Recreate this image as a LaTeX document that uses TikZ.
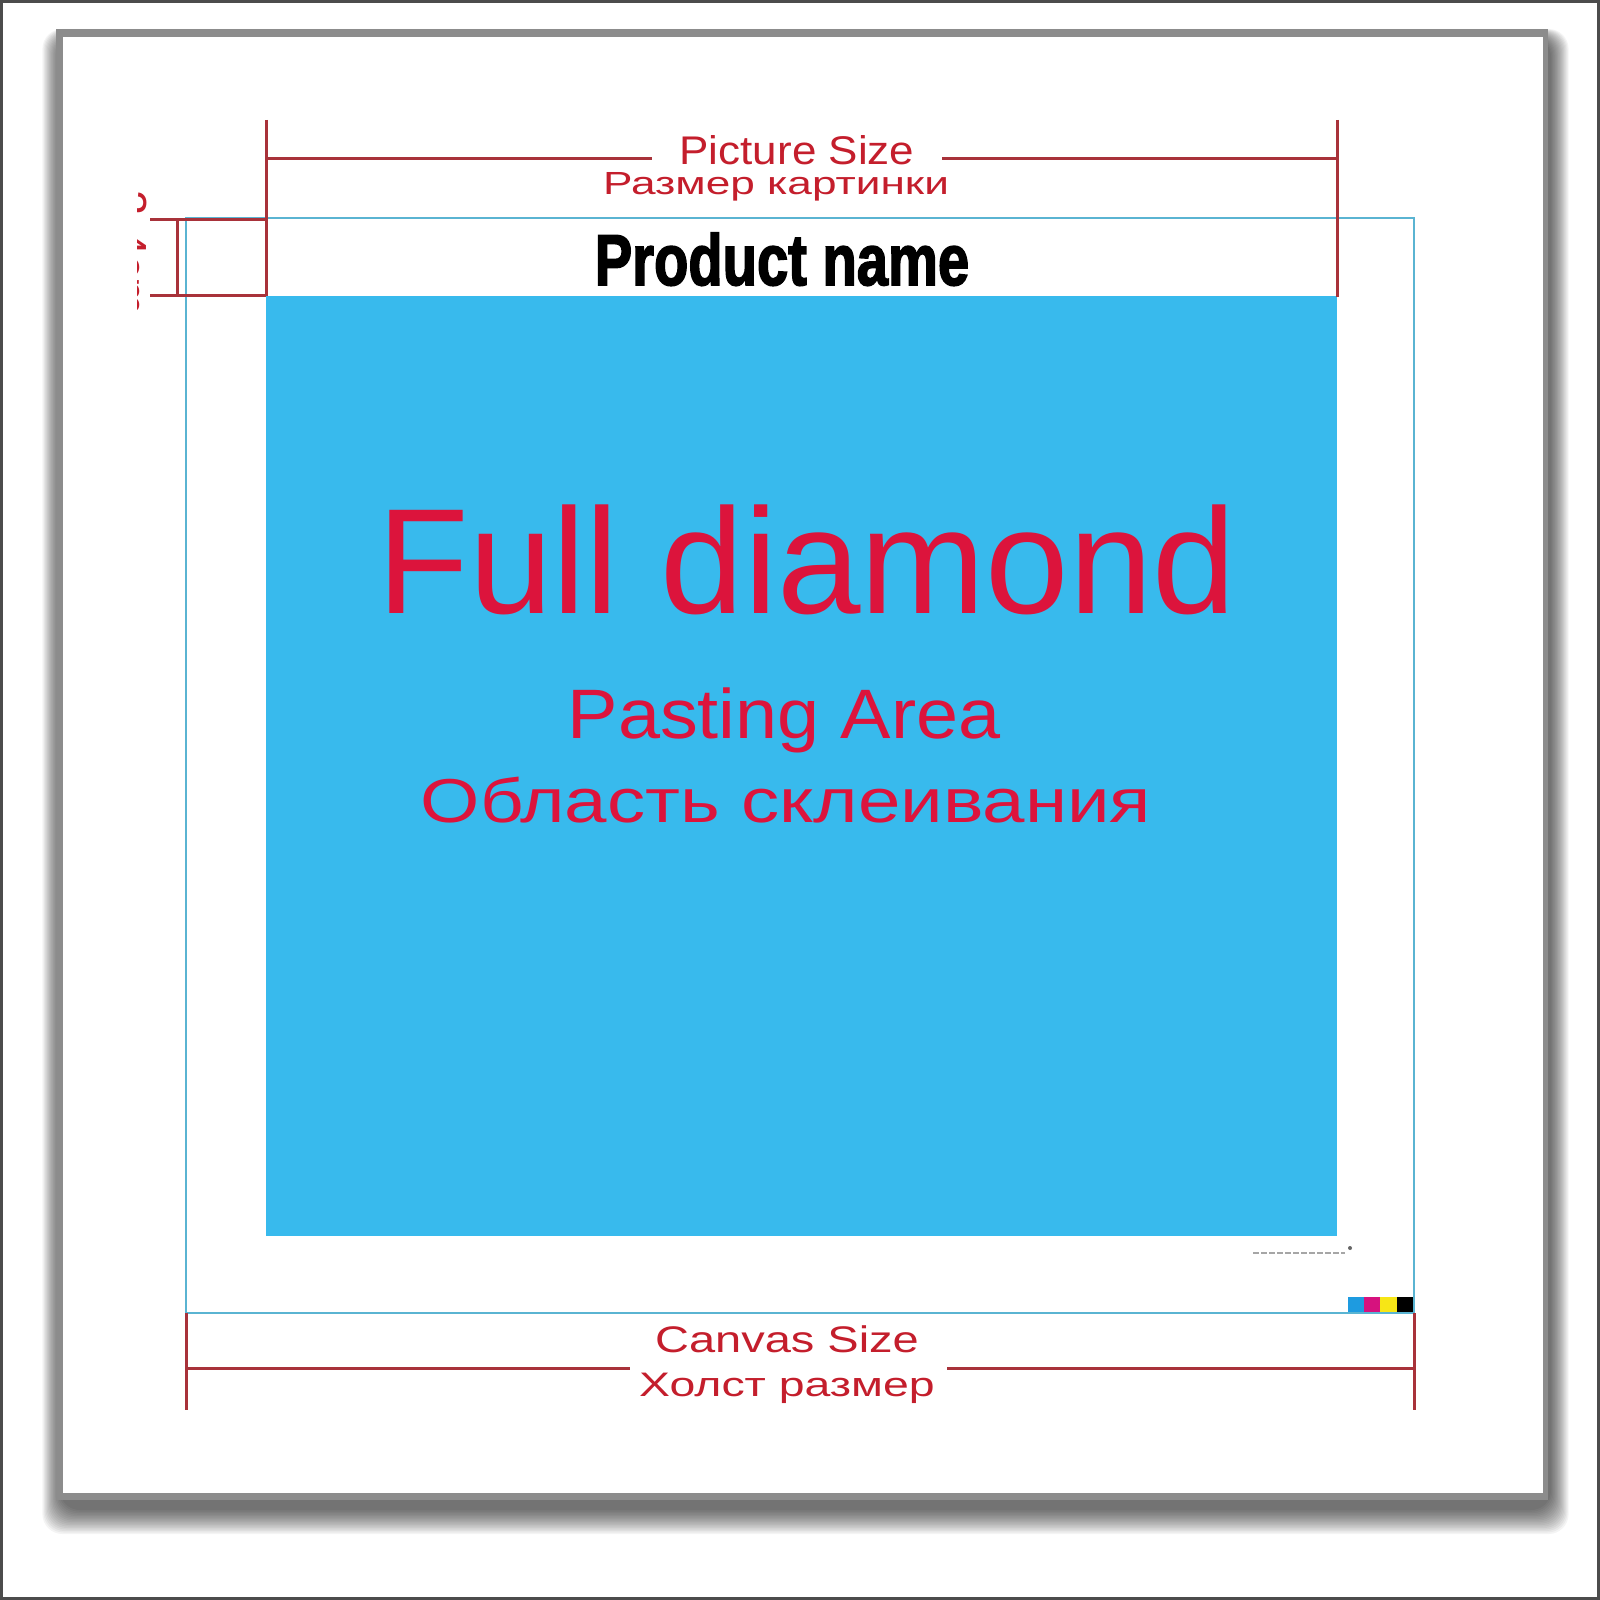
\documentclass[tikz,border=0pt]{standalone}
\usepackage{fontspec}
\setmainfont{Liberation Sans}
\definecolor{dimred}{HTML}{A8323A}
\definecolor{lblred}{HTML}{C41E2C}
\definecolor{bigred}{HTML}{DC143C}
\definecolor{cyanline}{HTML}{5AB4D2}
\definecolor{fillblue}{HTML}{38BAED}
\definecolor{framegray}{HTML}{8C8C8C}
\definecolor{swc}{HTML}{1E9BE0}
\definecolor{swm}{HTML}{D6127E}
\definecolor{swy}{HTML}{F7E616}
\newcommand{\fsz}[1]{\fontsize{#1}{#1}\selectfont}
\newcommand{\heavytext}[1]{\special{pdf:literal 2 Tr 0.9 w}#1\special{pdf:literal 0 Tr}}
\begin{document}
\begin{tikzpicture}[x=0.5pt,y=-0.5pt,
  dimline/.style={draw=dimred, line width=1.5pt},
  canvasline/.style={draw=cyanline, line width=1.25pt},
  lbl/.style={text=lblred, inner sep=0pt, anchor=base},
  big/.style={text=bigred, inner sep=0pt, anchor=base}]
\useasboundingbox (0,0) rectangle (1600,1600);
\fill[white] (0,0) rectangle (1600,1600);
\draw[line width=1.5pt, draw=black!70] (1.5,1.5) rectangle (1598.5,1598.5);
% drop shadow
\foreach \k in {0,...,16}{
  \fill[black, opacity=0.045, rounded corners=10pt]
    (56+4-\k*1.1, 29+8-\k*0.5) rectangle (1548+3+\k*1.1, 1500+10+\k*1.5);
}
% frame
\fill[framegray] (56,29) rectangle (1548,1500);
\fill[white] (63,37) rectangle (1543,1493);
% pasting area
\fill[fillblue] (266,296) rectangle (1337,1236);
% canvas outline
\coordinate (c1) at (186,218);
\coordinate (c2) at (1414,218);
\coordinate (c3) at (1414,1313);
\coordinate (c4) at (186,1313);
\draw[canvasline] (c1) -- (c2) -- (c3) -- (c4) -- cycle;
% colour swatches
\fill[swc] (1348,1297) rectangle (1364,1312);
\fill[swm] (1364,1297) rectangle (1380,1312);
\fill[swy] (1380,1297) rectangle (1397,1312);
\fill[black] (1397,1297) rectangle (1413,1312);
% tiny mark
\draw[black!35, line width=1pt, dash pattern=on 3pt off 1pt] (1253,1253) -- (1345,1253);
\fill[black!60] (1350,1248) circle (2);
% picture size dimension
\coordinate (p1t) at (266,120);
\coordinate (p1b) at (266,296);
\coordinate (p2t) at (1337,120);
\coordinate (p2b) at (1337,297);
\coordinate (p1m) at (266,158);
\coordinate (p2m) at (1337,158);
\coordinate (pgl) at (652,158);
\coordinate (pgr) at (942,158);
\draw[dimline] (p1t) -- (p1b);
\draw[dimline] (p2t) -- (p2b);
\draw[dimline] (p1m) -- (pgl);
\draw[dimline] (pgr) -- (p2m);
\node[lbl] (ps) at (797,164) {\fsz{20pt}\scalebox{1.1}[1]{Picture Size}};
\node[lbl] (pr) at (776,194) {\fsz{16pt}\scalebox{1.38}[1]{Размер картинки}};
% left header dimension
\coordinate (h1a) at (150,219);
\coordinate (h1b) at (266,219);
\coordinate (h2a) at (150,295);
\coordinate (h2b) at (266,295);
\coordinate (hv1) at (177,219);
\coordinate (hv2) at (177,295);
\draw[dimline] (h1a) -- (h1b);
\draw[dimline] (h2a) -- (h2b);
\draw[dimline] (hv1) -- (hv2);
\begin{scope}
  \clip (137,170) rectangle (165,340);
  \node[lbl, rotate=-90, anchor=base west] (hs) at (115,190) {\fsz{22.5pt}2-4cm};
\end{scope}
% canvas size dimension
\coordinate (q1b) at (186,1410);
\coordinate (q2b) at (1414,1410);
\coordinate (q1m) at (186,1368);
\coordinate (q2m) at (1414,1368);
\coordinate (qgl) at (630,1368);
\coordinate (qgr) at (947,1368);
\draw[dimline] (c4) -- (q1b);
\draw[dimline] (c3) -- (q2b);
\draw[dimline] (q1m) -- (qgl);
\draw[dimline] (qgr) -- (q2m);
\node[lbl] (cs) at (787,1352) {\fsz{18.5pt}\scalebox{1.27}[1]{Canvas Size}};
\node[lbl] (cr) at (787,1396) {\fsz{17pt}\scalebox{1.365}[1]{Холст размер}};
% product name
\node[inner sep=0pt, anchor=base] (pn) at (782,285) {\fsz{36pt}\bfseries\scalebox{0.78}[1]{\heavytext{Product name}}};
% big texts
\node[big] (fd) at (807,613) {\fsz{75pt}Full diamond};
\node[big] (pa) at (784,738) {\fsz{35pt}\scalebox{1.08}[1]{Pasting Area}};
\node[big] (ob) at (786,822) {\fsz{31pt}\scalebox{1.23}[1]{Область склеивания}};
\end{tikzpicture}
\end{document}
